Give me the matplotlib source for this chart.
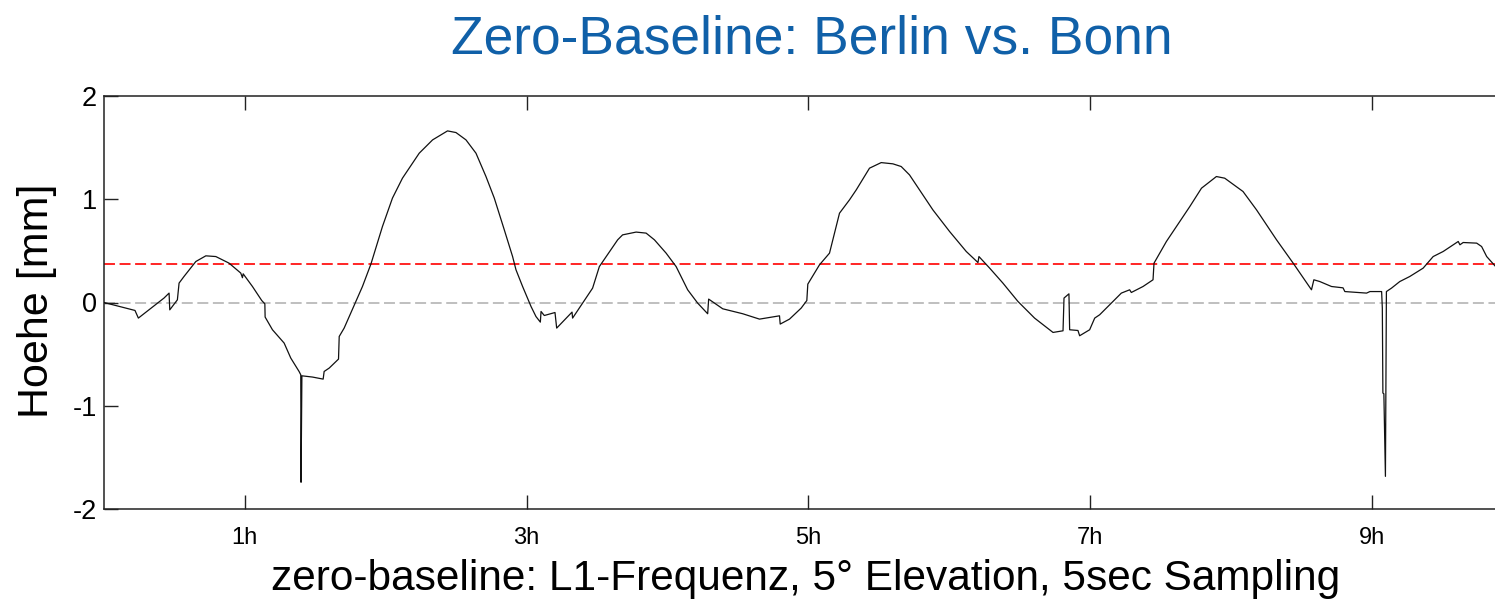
import matplotlib
matplotlib.use("Agg")
import matplotlib.pyplot as plt

# ---- data ----
time_h = [0.000, 0.220, 0.244, 0.426, 0.462, 0.467, 0.485, 0.521, 0.533, 0.568,
          0.652, 0.723, 0.794, 0.888, 0.971, 0.983, 0.988, 1.054, 1.120, 1.142,
          1.144, 1.196, 1.279, 1.326, 1.385, 1.397, 1.399, 1.405, 1.480, 1.556,
          1.563, 1.599, 1.665, 1.670, 1.705, 1.741,
          1.835, 1.895, 1.977, 2.048, 2.119, 2.238, 2.333, 2.439, 2.499, 2.570,
          2.641, 2.712, 2.771, 2.842, 2.901, 2.925, 2.972, 3.032, 3.067, 3.098,
          3.103, 3.126, 3.202, 3.214, 3.323, 3.327, 3.398, 3.469, 3.517,
          3.647, 3.682, 3.778, 3.849, 3.908, 3.991, 4.062, 4.144, 4.215, 4.286,
          4.293, 4.393, 4.535, 4.654, 4.796, 4.801, 4.867, 4.950, 4.990, 4.997,
          5.080, 5.151, 5.222, 5.293,
          5.341, 5.435, 5.518, 5.601, 5.660, 5.719, 5.790, 5.885, 6.004, 6.122,
          6.205, 6.212, 6.288, 6.382, 6.489, 6.607, 6.738, 6.809, 6.816, 6.851,
          6.856, 6.915, 6.927, 6.998, 7.034, 7.069,
          7.164, 7.223, 7.282, 7.294, 7.377, 7.448, 7.455, 7.543, 7.638, 7.709,
          7.792, 7.898, 7.957, 8.087, 8.183, 8.325, 8.443, 8.573, 8.590, 8.632,
          8.715, 8.797, 8.810,
          8.964, 8.988, 9.071, 9.076, 9.080, 9.087, 9.098, 9.105, 9.141, 9.200,
          9.271, 9.366, 9.437, 9.508, 9.615, 9.627, 9.650, 9.746, 9.781, 9.817,
          9.876]
height_mm = [0.000, -0.077, -0.151, 0.043, 0.091, -0.071, -0.039, 0.026, 0.188, 0.252,
             0.397, 0.452, 0.445, 0.381, 0.285, 0.240, 0.278, 0.155, 0.019, -0.013,
             -0.141, -0.264, -0.393, -0.538, -0.668, -0.700, -1.741, -0.710, -0.722, -0.742,
             -0.668, -0.635, -0.548, -0.329, -0.248, -0.136,
             0.155, 0.372, 0.736, 1.011, 1.204, 1.446, 1.575, 1.662, 1.646, 1.575,
             1.446, 1.220, 1.011, 0.704, 0.445, 0.317, 0.155, -0.039, -0.136, -0.190,
             -0.087, -0.126, -0.097, -0.248, -0.093, -0.151, -0.006, 0.139, 0.348,
             0.607, 0.655, 0.682, 0.672, 0.607, 0.478, 0.348, 0.123, -0.006, -0.109,
             0.033, -0.061, -0.109, -0.161, -0.129, -0.209, -0.161, -0.054, 0.019, 0.178,
             0.365, 0.478, 0.865, 0.994,
             1.091, 1.301, 1.355, 1.343, 1.317, 1.236, 1.091, 0.897, 0.687, 0.494,
             0.387, 0.445, 0.333, 0.188, 0.010, -0.151, -0.290, -0.274, 0.043, 0.084,
             -0.264, -0.271, -0.322, -0.264, -0.151, -0.119,
             0.010, 0.091, 0.123, 0.097, 0.155, 0.220, 0.381, 0.591, 0.784, 0.929,
             1.107, 1.220, 1.204, 1.075, 0.897, 0.607, 0.381, 0.123, 0.220, 0.203,
             0.155, 0.142, 0.106,
             0.091, 0.106, 0.106, -0.054, -0.877, -0.884, -1.684, 0.106, 0.139, 0.203,
             0.252, 0.333, 0.445, 0.494, 0.591, 0.559, 0.581, 0.575, 0.542, 0.445,
             0.355]
mean_level = 0.37
zero_level = 0.0
x_ticks = [1, 3, 5, 7, 9]
x_tick_labels = ["1h", "3h", "5h", "7h", "9h"]
y_ticks = [-2, -1, 0, 1, 2]
y_tick_labels = ["-2", "-1", "0", "1", "2"]

title_text = "Zero-Baseline: Berlin vs. Bonn"
xlabel_text = "zero-baseline: L1-Frequenz, 5° Elevation, 5sec Sampling"
ylabel_text = "Hoehe [mm]"

# ---- styling ----
plt.rcParams["font.family"] = ["Liberation Sans", "DejaVu Sans"]
plt.rcParams["lines.scale_dashes"] = False

fig = plt.figure(figsize=(14.95, 5.99), dpi=100)
ax = fig.add_axes([104 / 1495, 1 - 509 / 599, (1495 - 104) / 1495, (509 - 96) / 599])

ax.axhline(zero_level, color="#b4b4b4", lw=1.2, dashes=(7.9, 3.3), zorder=1)
ax.axhline(mean_level, color="#ff0000", lw=1.2, dashes=(7.9, 3.3), zorder=2)
ax.plot(time_h, height_mm, color="#111111", lw=0.9, zorder=3)

ax.set_xlim(0, 9.876)
ax.set_ylim(-2, 2)
ax.set_xticks(x_ticks)
ax.set_xticklabels(x_tick_labels)
ax.set_yticks(y_ticks)
ax.set_yticklabels(y_tick_labels)

ax.tick_params(axis="x", direction="in", length=10, width=1.0, top=True,
               labelsize=17, pad=13, color="#222222")
ax.tick_params(axis="y", direction="in", length=10, width=1.0, right=False,
               labelsize=19.5, pad=5, color="#222222")
for side in ["left", "bottom", "top"]:
    ax.spines[side].set_linewidth(1.1)
    ax.spines[side].set_color("#222222")
ax.spines["right"].set_visible(False)

fig.text(812 / 1495, 1 - 53 / 599, title_text, ha="center", va="baseline",
         fontsize=38.4, color="#1060a8")
fig.text(806 / 1495, 1 - 590 / 599, xlabel_text, ha="center", va="baseline",
         fontsize=30.5, color="black")
fig.text(37 / 1495, 1 - 301 / 599, ylabel_text, ha="center", va="center",
         rotation=90, fontsize=31, color="black")

fig.savefig("out.png", dpi=100)
